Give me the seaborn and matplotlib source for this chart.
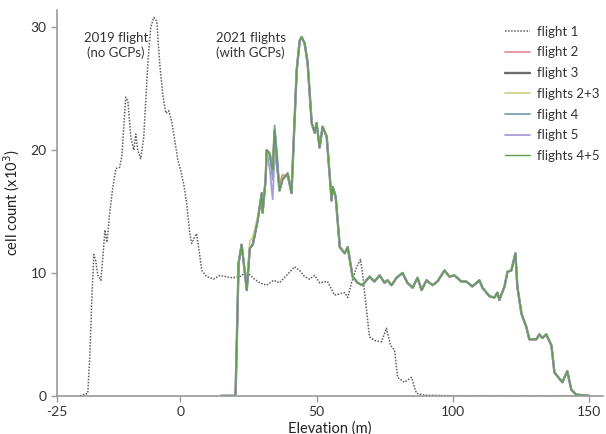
import matplotlib
matplotlib.use("Agg")
import matplotlib.pyplot as plt
import seaborn as sns

# 2019 flight (no GCPs) - elevation (m) vs cell count (x10^3)
f1_x = [-36.8, -33.9, -33.2, -32.4, -31.7, -31.0, -30.2, -29.1, -28.4, -27.6,
        -26.9, -25.8, -24.7, -23.6, -22.2, -21.4, -20.0, -19.2, -18.1, -17.0,
        -16.3, -15.6, -14.5, -13.4, -11.9, -10.8, -9.7, -8.6, -7.5, -6.4,
        -5.3, -4.2, -3.1, -2.0, -0.9, 0.2, 1.3, 2.4, 3.5, 4.2,
        5.0, 6.0, 6.8, 7.9, 9.7, 12.3, 14.5, 16.7, 19.2, 21.8,
        24.4, 26.6, 29.1, 31.7, 34.2, 36.4, 39.0, 41.9, 43.8, 45.6,
        47.4, 49.3, 51.1, 54.0, 56.6, 60.3, 61.4, 62.8, 64.7, 66.1,
        66.8, 67.6, 69.4, 71.3, 73.8, 75.6, 77.1, 78.6, 79.7, 82.2,
        84.8, 86.6, 89.6, 100, 120, 150]
f1_y = [0, 0.2, 3.0, 8.0, 11.5, 11.0, 9.8, 9.4, 11.2, 13.5,
        12.5, 15.0, 17.0, 18.5, 18.6, 19.5, 24.3, 24.0, 21.0, 20.0,
        21.3, 20.0, 19.3, 21.0, 27.0, 30.0, 30.8, 30.5, 27.0, 24.5,
        23.0, 23.2, 22.3, 20.8, 19.2, 18.3, 17.2, 15.6, 13.2, 12.4,
        12.8, 13.2, 12.0, 10.2, 9.7, 9.5, 9.8, 9.7, 9.6, 9.7,
        10.1, 9.6, 9.2, 9.0, 9.4, 9.2, 9.8, 10.5, 10.2, 9.7,
        9.5, 9.8, 9.2, 9.3, 8.2, 8.4, 8.0, 9.2, 10.5, 11.1,
        10.0, 8.4, 4.8, 4.5, 4.4, 5.5, 4.1, 3.7, 1.5, 1.1,
        1.5, 0.2, 0.05, 0, 0, 0]

# 2021 flights (with GCPs) - shared profile
g_x = [15, 20.0, 20.3, 21.4, 22.5, 23.6, 24.4, 25.5, 26.6, 28.4,
       29.9, 30.2, 31.3, 31.7, 32.8, 33.9, 34.6, 35.7, 36.4, 37.5,
       39.4, 40.8, 42.7, 43.8, 44.5, 45.6, 46.7, 48.2, 49.3, 50.0,
       51.1, 52.2, 53.7, 55.5, 55.9, 57.0, 58.5, 60.3, 61.4, 63.2,
       65.0, 66.8, 69.4, 71.2, 73.1, 74.9, 76.0, 77.5, 79.3, 81.5,
       83.3, 85.2, 87.0, 88.5, 90.3, 92.5, 94.3, 96.9, 98.7, 100.5,
       103.1, 104.9, 107.1, 109.7, 110.8, 113.4, 115.2, 116.3, 117.0, 118.9,
       120.0, 121.4, 122.9, 123.6, 125.1, 126.9, 128.0, 130.6, 131.7, 132.8,
       134.2, 136.1, 137.2, 140.1, 141.9, 143.4, 145.2, 150]
g_y = [0, 0, 0.2, 10.8, 12.3, 10.2, 8.6, 12.0, 12.3, 14.3,
       16.5, 14.9, 17.6, 20.0, 19.7, 18.4, 21.6, 18.4, 16.7, 17.6,
       18.1, 16.5, 26.5, 28.9, 29.2, 28.7, 27.1, 22.2, 21.4, 22.2,
       20.2, 21.9, 21.1, 15.9, 17.0, 16.2, 12.1, 11.6, 12.1, 9.7,
       9.2, 9.0, 9.7, 9.3, 9.8, 9.2, 9.4, 9.0, 9.6, 10.0,
       9.2, 8.8, 9.6, 8.6, 9.4, 9.0, 9.3, 10.2, 9.7, 9.8,
       9.3, 9.3, 8.9, 9.4, 8.8, 8.1, 8.0, 8.4, 7.8, 8.9,
       10.1, 10.2, 11.6, 8.9, 6.7, 5.6, 4.6, 4.6, 5.0, 4.7,
       5.0, 4.1, 1.9, 1.1, 2.0, 0.5, 0.1, 0]

# where individual 2021 flights differ from the shared profile
flight2_diff = {36.4: 17.2, 37.5: 18.0, 39.4: 17.8}
flight3_diff = {}
flight23_diff = {25.5: 12.6, 26.6: 12.9, 28.4: 14.6}
flight4_diff = {33.9: 17.6, 34.6: 22.0, 35.7: 19.2}
flight5_diff = {32.8: 18.5, 33.9: 16.0, 34.6: 19.5}
flight45_diff = {}

labels_2021 = ["flight 2", "flight 3", "flights 2+3", "flight 4", "flight 5", "flights 4+5"]
diffs_2021 = [flight2_diff, flight3_diff, flight23_diff, flight4_diff, flight5_diff, flight45_diff]
colors_2021 = ["#e8909c", "#6b6b6b", "#d6cf8e", "#7f9fb4", "#a99bd8", "#5f9e4a"]
widths_2021 = [1.3, 1.7, 1.3, 1.3, 1.3, 1.0]

xtick_pos = [-45.2, 0, 50, 100, 150]
xtick_lab = ["-25", "0", "50", "100", "150"]
ytick_pos = [0, 10, 20, 30]

sns.set_style("white")
plt.rcParams['font.family'] = ['Lato', 'DejaVu Sans']

fig = plt.figure(figsize=(6.06, 4.34), dpi=100)
ax = fig.add_axes([0.094, 0.088, 0.901, 0.889])

sns.lineplot(x=f1_x, y=f1_y, color="#5e5e5e", lw=1.1, dashes=False, label="flight 1", ax=ax)
ax.lines[-1].set_dashes((1, 1))
for lab, d, c, w in zip(labels_2021, diffs_2021, colors_2021, widths_2021):
    ys = [d.get(x, y) for x, y in zip(g_x, g_y)]
    sns.lineplot(x=g_x, y=ys, color=c, lw=w, label=lab, ax=ax)

ax.set_xlim(-45.2, 155)
ax.set_ylim(0, 31.4)
ax.set_xticks(xtick_pos)
ax.set_xticklabels(xtick_lab)
ax.set_yticks(ytick_pos)
sns.despine(ax=ax)
for s in ["left", "bottom"]:
    ax.spines[s].set_color("#9a9a9a")
    ax.spines[s].set_linewidth(1.2)
ax.tick_params(axis="both", colors="#9a9a9a", labelcolor="#333333", labelsize=10,
               length=4, width=1, direction="out", bottom=True, left=True)

ax.set_xlabel("Elevation (m)", fontsize=10.5, color="#222222", labelpad=2)
ax.set_ylabel("cell count (x10$^3$)", fontsize=10.5, color="#222222", labelpad=6)

ax.text(-23.6, 28.5, "2019 flight\n(no GCPs)", ha="center", va="center",
        fontsize=9.5, color="#333333", linespacing=1.3)
ax.text(25.8, 28.5, "2021 flights\n(with GCPs)", ha="center", va="center",
        fontsize=9.5, color="#333333", linespacing=1.3)

leg = ax.legend(loc="upper right", bbox_to_anchor=(1.016, 0.99), frameon=False,
                fontsize=9.5, handlelength=1.9, labelspacing=0.66, handletextpad=0.55)
leg.get_lines()[0].set_dashes((1, 1))
for t in leg.get_texts():
    t.set_color("#333333")

fig.savefig("out.png", dpi=100)
